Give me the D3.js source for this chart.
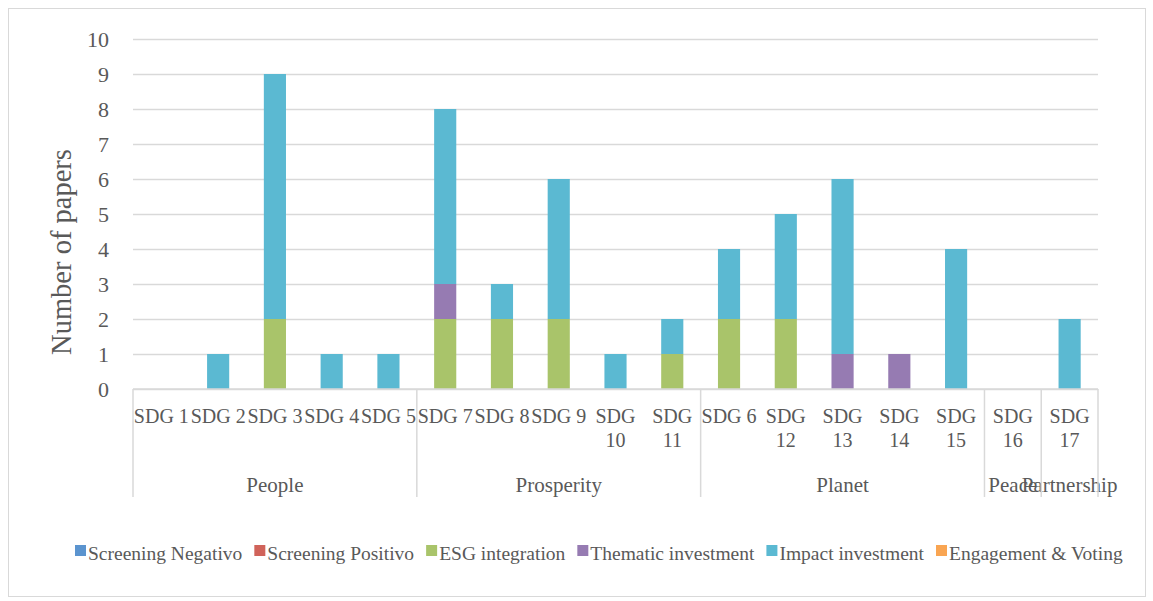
<!DOCTYPE html>
<html>
<head>
<meta charset="utf-8">
<script src="https://cdn.jsdelivr.net/npm/d3@7"></script>
<style>
  body { margin: 0; background: #fff; }
  svg text { font-family: "Liberation Serif", "DejaVu Serif", serif; fill: #595959; }
</style>
</head>
<body>
<div id="chart"></div>
<script>
// data
var categories = ["SDG 1", "SDG 2", "SDG 3", "SDG 4", "SDG 5", "SDG 7", "SDG 8", "SDG 9", "SDG 10", "SDG 11",
                  "SDG 6", "SDG 12", "SDG 13", "SDG 14", "SDG 15", "SDG 16", "SDG 17"];
var groups = ["People", "Prosperity", "Planet", "Peace", "Partnership"];
var groupSizes = [5, 5, 5, 1, 1];
var seriesNames = ["Screening Negativo", "Screening Positivo", "ESG integration", "Thematic investment", "Impact investment", "Engagement & Voting"];
var seriesColours = ["#5b94cf", "#d0635a", "#a9c46a", "#967bb2", "#5bb9d2", "#f9a552"];
var screeningNeg = [0, 0, 0, 0, 0, 0, 0, 0, 0, 0, 0, 0, 0, 0, 0, 0, 0];
var screeningPos = [0, 0, 0, 0, 0, 0, 0, 0, 0, 0, 0, 0, 0, 0, 0, 0, 0];
var esg          = [0, 0, 2, 0, 0, 2, 2, 2, 0, 1, 2, 2, 0, 0, 0, 0, 0];
var thematic     = [0, 0, 0, 0, 0, 1, 0, 0, 0, 0, 0, 0, 1, 1, 0, 0, 0];
var impact       = [0, 1, 7, 1, 1, 5, 1, 4, 1, 1, 2, 3, 5, 0, 4, 0, 2];
var engagement   = [0, 0, 0, 0, 0, 0, 0, 0, 0, 0, 0, 0, 0, 0, 0, 0, 0];
var yTicks = [0, 1, 2, 3, 4, 5, 6, 7, 8, 9, 10];

var ChartBuilder = {
    init: function(){
        this.width = 1153;
        this.height = 601;
        this.left = 133;
        this.right = 1098;
        this.top = 39;
        this.bottom = 389;
        var svg = d3.select("#chart").append("svg")
            .attr("width", this.width)
            .attr("height", this.height);
        this.svg = svg;

        //outer frame
        svg.append("rect")
            .attr("x", 8.5).attr("y", 8.5)
            .attr("width", 1137).attr("height", 588)
            .attr("fill", "none").attr("stroke", "#d9d9d9").attr("stroke-width", 1);

        this.x = d3.scaleBand().domain(categories).range([this.left, this.right]).paddingInner(0.61).paddingOuter(0.305);
        this.y = d3.scaleLinear().domain([0, 10]).range([this.bottom, this.top]);

        this.drawGrid();
        this.drawBars();
        this.drawCategoryAxis();
        this.drawLegend();
    },

    drawGrid: function(){
        var yAxis = d3.axisLeft(this.y).tickValues(yTicks).tickSize(-(this.right - this.left)).tickPadding(24);
        var g = this.svg.append("g").attr("transform", "translate(" + this.left + ",0)").call(yAxis);
        g.select(".domain").remove();
        g.selectAll(".tick line").attr("stroke", "#d9d9d9").attr("stroke-width", 1.5);
        g.selectAll(".tick text").attr("font-size", 22).attr("fill", "#595959")
            .style("font-family", "'Liberation Serif', serif");

        this.svg.append("text")
            .text("Number of papers")
            .attr("font-size", 28.5)
            .attr("text-anchor", "middle")
            .attr("transform", "translate(71,252) rotate(-90)");
    },

    drawBars: function(){
        var self = this;
        var rows = categories.map(function(c, i){
            return {cat: c, s0: screeningNeg[i], s1: screeningPos[i], s2: esg[i], s3: thematic[i], s4: impact[i], s5: engagement[i]};
        });
        var keys = ["s0", "s1", "s2", "s3", "s4", "s5"];
        var stacked = d3.stack().keys(keys)(rows);
        this.svg.append("g").selectAll("g")
            .data(stacked)
            .join("g")
            .attr("fill", function(d, i){ return seriesColours[i]; })
            .selectAll("rect")
            .data(function(d){ return d; })
            .join("rect")
            .attr("x", function(d){ return self.x(d.data.cat); })
            .attr("width", this.x.bandwidth())
            .attr("y", function(d){ return self.y(d[1]); })
            .attr("height", function(d){ return self.y(d[0]) - self.y(d[1]); });
    },

    drawCategoryAxis: function(){
        var self = this;
        var axisG = this.svg.append("g");
        var lineColour = "#d9d9d9";
        var axisBottom = 497;
        axisG.append("line")
            .attr("x1", this.left).attr("x2", this.right)
            .attr("y1", this.bottom).attr("y2", this.bottom)
            .attr("stroke", lineColour).attr("stroke-width", 1.5);

        var step = this.x.step();
        var start = 0;
        var edges = [this.left];
        groupSizes.forEach(function(n, gi){
            var x0 = self.left + step * start;
            var x1 = self.left + step * (start + n);
            edges.push(x1);
            axisG.append("text")
                .text(groups[gi])
                .attr("x", (x0 + x1) / 2)
                .attr("y", 492)
                .attr("font-size", 21)
                .attr("text-anchor", "middle");
            start += n;
        });
        edges.forEach(function(ex){
            axisG.append("line")
                .attr("x1", ex).attr("x2", ex)
                .attr("y1", self.bottom).attr("y2", axisBottom)
                .attr("stroke", lineColour).attr("stroke-width", 1.5);
        });

        categories.forEach(function(c){
            var cx = self.x(c) + self.x.bandwidth() / 2;
            var num = c.split(" ")[1];
            var t = axisG.append("text")
                .attr("x", cx)
                .attr("y", 423)
                .attr("font-size", 20)
                .attr("text-anchor", "middle");
            if (num.length > 1){
                t.append("tspan").attr("x", cx).text("SDG");
                t.append("tspan").attr("x", cx).attr("dy", 24).text(num);
            }
            else{
                t.text(c);
            }
        });
    },

    drawLegend: function(){
        var self = this;
        var lx = 75;
        var ly = 555;
        seriesNames.forEach(function(name, i){
            self.svg.append("rect")
                .attr("x", lx).attr("y", ly - 10)
                .attr("width", 11).attr("height", 11)
                .attr("fill", seriesColours[i]);
            var t = self.svg.append("text")
                .text(name)
                .attr("x", lx + 13)
                .attr("y", ly + 5)
                .attr("font-size", 19.5);
            lx = lx + 13 + t.node().getComputedTextLength() + 12;
        });
    }
};

ChartBuilder.init();
</script>
</body>
</html>
